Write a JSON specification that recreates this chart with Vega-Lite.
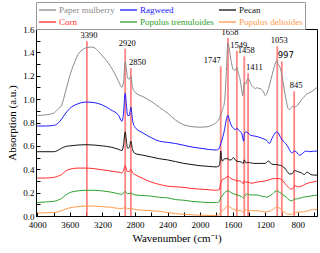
{
"$schema": "https://vega.github.io/schema/vega-lite/v6.json",
"autosize": "none",
"width": 281,
"height": 187,
"padding": {"left": 36, "top": 29, "right": 3, "bottom": 37},
"background": "white",
"config": {
  "view": {"stroke": "black", "strokeWidth": 1},
  "axis": {"grid": false, "domainColor": "black", "tickColor": "black", "labelColor": "black", "titleColor": "black", "labelFont": "Liberation Serif", "titleFont": "Liberation Serif", "labelFontSize": 9, "titleFontSize": 11, "titleFontWeight": "normal", "labelOverlap": false}
},
"datasets": {
"spectra": [
{"s":"Paper mulberry","x":4000,"y":0.86},{"s":"Paper mulberry","x":3900,"y":0.865},{"s":"Paper mulberry","x":3800,"y":0.88},{"s":"Paper mulberry","x":3750,"y":0.91},{"s":"Paper mulberry","x":3700,"y":0.95},{"s":"Paper mulberry","x":3650,"y":1.07},{"s":"Paper mulberry","x":3600,"y":1.2},{"s":"Paper mulberry","x":3550,"y":1.3},{"s":"Paper mulberry","x":3500,"y":1.38},{"s":"Paper mulberry","x":3450,"y":1.42},{"s":"Paper mulberry","x":3390,"y":1.44},{"s":"Paper mulberry","x":3330,"y":1.445},{"s":"Paper mulberry","x":3300,"y":1.44},{"s":"Paper mulberry","x":3250,"y":1.41},{"s":"Paper mulberry","x":3200,"y":1.37},{"s":"Paper mulberry","x":3150,"y":1.33},{"s":"Paper mulberry","x":3100,"y":1.28},{"s":"Paper mulberry","x":3050,"y":1.22},{"s":"Paper mulberry","x":3000,"y":1.15},{"s":"Paper mulberry","x":2960,"y":1.10},{"s":"Paper mulberry","x":2940,"y":1.15},{"s":"Paper mulberry","x":2920,"y":1.32},{"s":"Paper mulberry","x":2905,"y":1.26},{"s":"Paper mulberry","x":2890,"y":1.18},{"s":"Paper mulberry","x":2870,"y":1.17},{"s":"Paper mulberry","x":2850,"y":1.20},{"s":"Paper mulberry","x":2830,"y":1.10},{"s":"Paper mulberry","x":2800,"y":1.06},{"s":"Paper mulberry","x":2700,"y":1.02},{"s":"Paper mulberry","x":2600,"y":0.98},{"s":"Paper mulberry","x":2500,"y":0.93},{"s":"Paper mulberry","x":2400,"y":0.88},{"s":"Paper mulberry","x":2300,"y":0.82},{"s":"Paper mulberry","x":2200,"y":0.78},{"s":"Paper mulberry","x":2100,"y":0.765},{"s":"Paper mulberry","x":2000,"y":0.76},{"s":"Paper mulberry","x":1900,"y":0.765},{"s":"Paper mulberry","x":1850,"y":0.78},{"s":"Paper mulberry","x":1800,"y":0.80},{"s":"Paper mulberry","x":1760,"y":0.84},{"s":"Paper mulberry","x":1730,"y":0.9},{"s":"Paper mulberry","x":1700,"y":0.98},{"s":"Paper mulberry","x":1680,"y":1.2},{"s":"Paper mulberry","x":1658,"y":1.48},{"s":"Paper mulberry","x":1640,"y":1.42},{"s":"Paper mulberry","x":1620,"y":1.33},{"s":"Paper mulberry","x":1590,"y":1.25},{"s":"Paper mulberry","x":1565,"y":1.25},{"s":"Paper mulberry","x":1549,"y":1.27},{"s":"Paper mulberry","x":1530,"y":1.22},{"s":"Paper mulberry","x":1510,"y":1.17},{"s":"Paper mulberry","x":1490,"y":1.08},{"s":"Paper mulberry","x":1478,"y":1.03},{"s":"Paper mulberry","x":1465,"y":1.10},{"s":"Paper mulberry","x":1458,"y":1.14},{"s":"Paper mulberry","x":1440,"y":1.13},{"s":"Paper mulberry","x":1425,"y":1.16},{"s":"Paper mulberry","x":1411,"y":1.18},{"s":"Paper mulberry","x":1390,"y":1.15},{"s":"Paper mulberry","x":1370,"y":1.12},{"s":"Paper mulberry","x":1340,"y":1.10},{"s":"Paper mulberry","x":1320,"y":1.09},{"s":"Paper mulberry","x":1300,"y":1.1},{"s":"Paper mulberry","x":1280,"y":1.09},{"s":"Paper mulberry","x":1260,"y":1.09},{"s":"Paper mulberry","x":1240,"y":1.08},{"s":"Paper mulberry","x":1220,"y":1.06},{"s":"Paper mulberry","x":1200,"y":1.03},{"s":"Paper mulberry","x":1180,"y":1.05},{"s":"Paper mulberry","x":1160,"y":1.09},{"s":"Paper mulberry","x":1130,"y":1.17},{"s":"Paper mulberry","x":1100,"y":1.25},{"s":"Paper mulberry","x":1075,"y":1.31},{"s":"Paper mulberry","x":1060,"y":1.33},{"s":"Paper mulberry","x":1045,"y":1.30},{"s":"Paper mulberry","x":1030,"y":1.29},{"s":"Paper mulberry","x":1010,"y":1.25},{"s":"Paper mulberry","x":997,"y":1.21},{"s":"Paper mulberry","x":980,"y":1.14},{"s":"Paper mulberry","x":960,"y":1.05},{"s":"Paper mulberry","x":940,"y":0.98},{"s":"Paper mulberry","x":920,"y":0.92},{"s":"Paper mulberry","x":900,"y":0.91},{"s":"Paper mulberry","x":880,"y":0.93},{"s":"Paper mulberry","x":860,"y":0.94},{"s":"Paper mulberry","x":840,"y":0.93},{"s":"Paper mulberry","x":820,"y":0.94},{"s":"Paper mulberry","x":800,"y":0.95},{"s":"Paper mulberry","x":770,"y":0.98},{"s":"Paper mulberry","x":740,"y":1.01},{"s":"Paper mulberry","x":720,"y":1.02},{"s":"Paper mulberry","x":700,"y":1.04},{"s":"Paper mulberry","x":670,"y":1.05},{"s":"Paper mulberry","x":640,"y":1.06},{"s":"Paper mulberry","x":600,"y":1.08},{"s":"Paper mulberry","x":565,"y":1.10},
{"s":"Ragweed","x":4000,"y":0.77},{"s":"Ragweed","x":3900,"y":0.77},{"s":"Ragweed","x":3800,"y":0.775},{"s":"Ragweed","x":3750,"y":0.79},{"s":"Ragweed","x":3700,"y":0.83},{"s":"Ragweed","x":3650,"y":0.88},{"s":"Ragweed","x":3600,"y":0.92},{"s":"Ragweed","x":3500,"y":0.96},{"s":"Ragweed","x":3400,"y":0.975},{"s":"Ragweed","x":3300,"y":0.97},{"s":"Ragweed","x":3200,"y":0.95},{"s":"Ragweed","x":3100,"y":0.91},{"s":"Ragweed","x":3000,"y":0.86},{"s":"Ragweed","x":2960,"y":0.81},{"s":"Ragweed","x":2940,"y":0.88},{"s":"Ragweed","x":2920,"y":1.05},{"s":"Ragweed","x":2905,"y":0.95},{"s":"Ragweed","x":2890,"y":0.86},{"s":"Ragweed","x":2870,"y":0.86},{"s":"Ragweed","x":2850,"y":0.93},{"s":"Ragweed","x":2830,"y":0.82},{"s":"Ragweed","x":2800,"y":0.76},{"s":"Ragweed","x":2700,"y":0.71},{"s":"Ragweed","x":2600,"y":0.67},{"s":"Ragweed","x":2500,"y":0.64},{"s":"Ragweed","x":2400,"y":0.63},{"s":"Ragweed","x":2300,"y":0.62},{"s":"Ragweed","x":2200,"y":0.605},{"s":"Ragweed","x":2100,"y":0.59},{"s":"Ragweed","x":2000,"y":0.58},{"s":"Ragweed","x":1900,"y":0.57},{"s":"Ragweed","x":1800,"y":0.565},{"s":"Ragweed","x":1770,"y":0.575},{"s":"Ragweed","x":1747,"y":0.62},{"s":"Ragweed","x":1720,"y":0.68},{"s":"Ragweed","x":1700,"y":0.74},{"s":"Ragweed","x":1680,"y":0.82},{"s":"Ragweed","x":1658,"y":0.86},{"s":"Ragweed","x":1640,"y":0.82},{"s":"Ragweed","x":1620,"y":0.78},{"s":"Ragweed","x":1590,"y":0.75},{"s":"Ragweed","x":1560,"y":0.74},{"s":"Ragweed","x":1549,"y":0.75},{"s":"Ragweed","x":1520,"y":0.73},{"s":"Ragweed","x":1490,"y":0.71},{"s":"Ragweed","x":1475,"y":0.66},{"s":"Ragweed","x":1465,"y":0.64},{"s":"Ragweed","x":1458,"y":0.70},{"s":"Ragweed","x":1440,"y":0.72},{"s":"Ragweed","x":1411,"y":0.71},{"s":"Ragweed","x":1380,"y":0.69},{"s":"Ragweed","x":1340,"y":0.685},{"s":"Ragweed","x":1300,"y":0.68},{"s":"Ragweed","x":1260,"y":0.67},{"s":"Ragweed","x":1220,"y":0.66},{"s":"Ragweed","x":1180,"y":0.645},{"s":"Ragweed","x":1150,"y":0.62},{"s":"Ragweed","x":1120,"y":0.66},{"s":"Ragweed","x":1080,"y":0.71},{"s":"Ragweed","x":1060,"y":0.72},{"s":"Ragweed","x":1040,"y":0.71},{"s":"Ragweed","x":1010,"y":0.67},{"s":"Ragweed","x":980,"y":0.64},{"s":"Ragweed","x":950,"y":0.62},{"s":"Ragweed","x":920,"y":0.59},{"s":"Ragweed","x":890,"y":0.55},{"s":"Ragweed","x":870,"y":0.54},{"s":"Ragweed","x":845,"y":0.555},{"s":"Ragweed","x":820,"y":0.55},{"s":"Ragweed","x":800,"y":0.53},{"s":"Ragweed","x":780,"y":0.52},{"s":"Ragweed","x":750,"y":0.53},{"s":"Ragweed","x":720,"y":0.55},{"s":"Ragweed","x":690,"y":0.555},{"s":"Ragweed","x":650,"y":0.55},{"s":"Ragweed","x":600,"y":0.555},{"s":"Ragweed","x":565,"y":0.555},
{"s":"Pecan","x":4000,"y":0.55},{"s":"Pecan","x":3800,"y":0.55},{"s":"Pecan","x":3750,"y":0.56},{"s":"Pecan","x":3700,"y":0.58},{"s":"Pecan","x":3650,"y":0.595},{"s":"Pecan","x":3600,"y":0.60},{"s":"Pecan","x":3400,"y":0.61},{"s":"Pecan","x":3200,"y":0.60},{"s":"Pecan","x":3100,"y":0.59},{"s":"Pecan","x":3000,"y":0.57},{"s":"Pecan","x":2960,"y":0.56},{"s":"Pecan","x":2940,"y":0.61},{"s":"Pecan","x":2920,"y":0.72},{"s":"Pecan","x":2905,"y":0.64},{"s":"Pecan","x":2890,"y":0.58},{"s":"Pecan","x":2870,"y":0.585},{"s":"Pecan","x":2850,"y":0.64},{"s":"Pecan","x":2830,"y":0.57},{"s":"Pecan","x":2800,"y":0.535},{"s":"Pecan","x":2700,"y":0.52},{"s":"Pecan","x":2600,"y":0.505},{"s":"Pecan","x":2500,"y":0.49},{"s":"Pecan","x":2400,"y":0.48},{"s":"Pecan","x":2300,"y":0.465},{"s":"Pecan","x":2200,"y":0.45},{"s":"Pecan","x":2100,"y":0.44},{"s":"Pecan","x":2000,"y":0.43},{"s":"Pecan","x":1900,"y":0.425},{"s":"Pecan","x":1800,"y":0.42},{"s":"Pecan","x":1765,"y":0.43},{"s":"Pecan","x":1755,"y":0.47},{"s":"Pecan","x":1747,"y":0.555},{"s":"Pecan","x":1738,"y":0.50},{"s":"Pecan","x":1725,"y":0.47},{"s":"Pecan","x":1700,"y":0.49},{"s":"Pecan","x":1680,"y":0.49},{"s":"Pecan","x":1658,"y":0.49},{"s":"Pecan","x":1640,"y":0.48},{"s":"Pecan","x":1620,"y":0.48},{"s":"Pecan","x":1590,"y":0.50},{"s":"Pecan","x":1570,"y":0.48},{"s":"Pecan","x":1549,"y":0.47},{"s":"Pecan","x":1520,"y":0.465},{"s":"Pecan","x":1490,"y":0.46},{"s":"Pecan","x":1470,"y":0.45},{"s":"Pecan","x":1458,"y":0.48},{"s":"Pecan","x":1445,"y":0.46},{"s":"Pecan","x":1430,"y":0.455},{"s":"Pecan","x":1411,"y":0.46},{"s":"Pecan","x":1380,"y":0.455},{"s":"Pecan","x":1340,"y":0.45},{"s":"Pecan","x":1300,"y":0.45},{"s":"Pecan","x":1250,"y":0.45},{"s":"Pecan","x":1200,"y":0.45},{"s":"Pecan","x":1175,"y":0.465},{"s":"Pecan","x":1155,"y":0.47},{"s":"Pecan","x":1140,"y":0.455},{"s":"Pecan","x":1120,"y":0.445},{"s":"Pecan","x":1090,"y":0.44},{"s":"Pecan","x":1060,"y":0.44},{"s":"Pecan","x":1030,"y":0.435},{"s":"Pecan","x":1000,"y":0.43},{"s":"Pecan","x":980,"y":0.42},{"s":"Pecan","x":960,"y":0.41},{"s":"Pecan","x":940,"y":0.39},{"s":"Pecan","x":920,"y":0.37},{"s":"Pecan","x":900,"y":0.36},{"s":"Pecan","x":880,"y":0.36},{"s":"Pecan","x":860,"y":0.37},{"s":"Pecan","x":840,"y":0.39},{"s":"Pecan","x":820,"y":0.385},{"s":"Pecan","x":800,"y":0.38},{"s":"Pecan","x":760,"y":0.37},{"s":"Pecan","x":720,"y":0.355},{"s":"Pecan","x":690,"y":0.375},{"s":"Pecan","x":670,"y":0.37},{"s":"Pecan","x":640,"y":0.355},{"s":"Pecan","x":600,"y":0.35},{"s":"Pecan","x":565,"y":0.35},
{"s":"Corn","x":4000,"y":0.325},{"s":"Corn","x":3900,"y":0.325},{"s":"Corn","x":3800,"y":0.33},{"s":"Corn","x":3750,"y":0.34},{"s":"Corn","x":3700,"y":0.355},{"s":"Corn","x":3650,"y":0.385},{"s":"Corn","x":3600,"y":0.40},{"s":"Corn","x":3500,"y":0.41},{"s":"Corn","x":3400,"y":0.41},{"s":"Corn","x":3300,"y":0.405},{"s":"Corn","x":3200,"y":0.395},{"s":"Corn","x":3100,"y":0.385},{"s":"Corn","x":3000,"y":0.375},{"s":"Corn","x":2960,"y":0.37},{"s":"Corn","x":2940,"y":0.39},{"s":"Corn","x":2920,"y":0.43},{"s":"Corn","x":2905,"y":0.40},{"s":"Corn","x":2890,"y":0.38},{"s":"Corn","x":2870,"y":0.38},{"s":"Corn","x":2850,"y":0.40},{"s":"Corn","x":2830,"y":0.37},{"s":"Corn","x":2800,"y":0.355},{"s":"Corn","x":2700,"y":0.32},{"s":"Corn","x":2600,"y":0.29},{"s":"Corn","x":2500,"y":0.27},{"s":"Corn","x":2400,"y":0.255},{"s":"Corn","x":2300,"y":0.25},{"s":"Corn","x":2200,"y":0.245},{"s":"Corn","x":2100,"y":0.235},{"s":"Corn","x":2000,"y":0.23},{"s":"Corn","x":1900,"y":0.225},{"s":"Corn","x":1800,"y":0.22},{"s":"Corn","x":1765,"y":0.225},{"s":"Corn","x":1747,"y":0.28},{"s":"Corn","x":1730,"y":0.31},{"s":"Corn","x":1700,"y":0.32},{"s":"Corn","x":1680,"y":0.33},{"s":"Corn","x":1658,"y":0.34},{"s":"Corn","x":1640,"y":0.33},{"s":"Corn","x":1620,"y":0.32},{"s":"Corn","x":1590,"y":0.31},{"s":"Corn","x":1560,"y":0.305},{"s":"Corn","x":1549,"y":0.30},{"s":"Corn","x":1510,"y":0.30},{"s":"Corn","x":1490,"y":0.29},{"s":"Corn","x":1470,"y":0.275},{"s":"Corn","x":1458,"y":0.30},{"s":"Corn","x":1440,"y":0.29},{"s":"Corn","x":1411,"y":0.29},{"s":"Corn","x":1370,"y":0.28},{"s":"Corn","x":1330,"y":0.285},{"s":"Corn","x":1300,"y":0.29},{"s":"Corn","x":1250,"y":0.295},{"s":"Corn","x":1200,"y":0.30},{"s":"Corn","x":1150,"y":0.31},{"s":"Corn","x":1100,"y":0.32},{"s":"Corn","x":1060,"y":0.32},{"s":"Corn","x":1030,"y":0.32},{"s":"Corn","x":997,"y":0.31},{"s":"Corn","x":980,"y":0.30},{"s":"Corn","x":960,"y":0.28},{"s":"Corn","x":940,"y":0.26},{"s":"Corn","x":920,"y":0.25},{"s":"Corn","x":900,"y":0.235},{"s":"Corn","x":880,"y":0.23},{"s":"Corn","x":860,"y":0.24},{"s":"Corn","x":840,"y":0.26},{"s":"Corn","x":820,"y":0.255},{"s":"Corn","x":800,"y":0.25},{"s":"Corn","x":760,"y":0.255},{"s":"Corn","x":740,"y":0.26},{"s":"Corn","x":700,"y":0.275},{"s":"Corn","x":660,"y":0.285},{"s":"Corn","x":620,"y":0.29},{"s":"Corn","x":565,"y":0.30},
{"s":"Populus tremuloides","x":4000,"y":0.115},{"s":"Populus tremuloides","x":3900,"y":0.12},{"s":"Populus tremuloides","x":3800,"y":0.125},{"s":"Populus tremuloides","x":3750,"y":0.135},{"s":"Populus tremuloides","x":3700,"y":0.15},{"s":"Populus tremuloides","x":3650,"y":0.18},{"s":"Populus tremuloides","x":3600,"y":0.20},{"s":"Populus tremuloides","x":3500,"y":0.215},{"s":"Populus tremuloides","x":3400,"y":0.22},{"s":"Populus tremuloides","x":3300,"y":0.22},{"s":"Populus tremuloides","x":3200,"y":0.215},{"s":"Populus tremuloides","x":3100,"y":0.205},{"s":"Populus tremuloides","x":3000,"y":0.19},{"s":"Populus tremuloides","x":2960,"y":0.185},{"s":"Populus tremuloides","x":2920,"y":0.21},{"s":"Populus tremuloides","x":2890,"y":0.19},{"s":"Populus tremuloides","x":2850,"y":0.195},{"s":"Populus tremuloides","x":2800,"y":0.18},{"s":"Populus tremuloides","x":2700,"y":0.175},{"s":"Populus tremuloides","x":2600,"y":0.17},{"s":"Populus tremuloides","x":2500,"y":0.16},{"s":"Populus tremuloides","x":2400,"y":0.155},{"s":"Populus tremuloides","x":2300,"y":0.14},{"s":"Populus tremuloides","x":2200,"y":0.135},{"s":"Populus tremuloides","x":2100,"y":0.125},{"s":"Populus tremuloides","x":2000,"y":0.12},{"s":"Populus tremuloides","x":1900,"y":0.115},{"s":"Populus tremuloides","x":1800,"y":0.115},{"s":"Populus tremuloides","x":1770,"y":0.12},{"s":"Populus tremuloides","x":1747,"y":0.155},{"s":"Populus tremuloides","x":1720,"y":0.18},{"s":"Populus tremuloides","x":1700,"y":0.20},{"s":"Populus tremuloides","x":1680,"y":0.21},{"s":"Populus tremuloides","x":1658,"y":0.215},{"s":"Populus tremuloides","x":1640,"y":0.21},{"s":"Populus tremuloides","x":1620,"y":0.20},{"s":"Populus tremuloides","x":1590,"y":0.19},{"s":"Populus tremuloides","x":1549,"y":0.18},{"s":"Populus tremuloides","x":1520,"y":0.175},{"s":"Populus tremuloides","x":1490,"y":0.165},{"s":"Populus tremuloides","x":1470,"y":0.155},{"s":"Populus tremuloides","x":1458,"y":0.165},{"s":"Populus tremuloides","x":1440,"y":0.18},{"s":"Populus tremuloides","x":1430,"y":0.19},{"s":"Populus tremuloides","x":1411,"y":0.185},{"s":"Populus tremuloides","x":1370,"y":0.18},{"s":"Populus tremuloides","x":1300,"y":0.18},{"s":"Populus tremuloides","x":1250,"y":0.17},{"s":"Populus tremuloides","x":1200,"y":0.165},{"s":"Populus tremuloides","x":1180,"y":0.16},{"s":"Populus tremuloides","x":1150,"y":0.17},{"s":"Populus tremuloides","x":1110,"y":0.19},{"s":"Populus tremuloides","x":1080,"y":0.21},{"s":"Populus tremuloides","x":1060,"y":0.215},{"s":"Populus tremuloides","x":1040,"y":0.21},{"s":"Populus tremuloides","x":1020,"y":0.20},{"s":"Populus tremuloides","x":997,"y":0.19},{"s":"Populus tremuloides","x":970,"y":0.175},{"s":"Populus tremuloides","x":940,"y":0.16},{"s":"Populus tremuloides","x":910,"y":0.14},{"s":"Populus tremuloides","x":880,"y":0.13},{"s":"Populus tremuloides","x":860,"y":0.135},{"s":"Populus tremuloides","x":840,"y":0.145},{"s":"Populus tremuloides","x":820,"y":0.145},{"s":"Populus tremuloides","x":790,"y":0.15},{"s":"Populus tremuloides","x":760,"y":0.155},{"s":"Populus tremuloides","x":740,"y":0.16},{"s":"Populus tremuloides","x":700,"y":0.165},{"s":"Populus tremuloides","x":650,"y":0.17},{"s":"Populus tremuloides","x":600,"y":0.175},{"s":"Populus tremuloides","x":565,"y":0.18},
{"s":"Populus deltoides","x":4000,"y":0.025},{"s":"Populus deltoides","x":3900,"y":0.028},{"s":"Populus deltoides","x":3800,"y":0.03},{"s":"Populus deltoides","x":3750,"y":0.035},{"s":"Populus deltoides","x":3700,"y":0.045},{"s":"Populus deltoides","x":3650,"y":0.06},{"s":"Populus deltoides","x":3600,"y":0.07},{"s":"Populus deltoides","x":3500,"y":0.08},{"s":"Populus deltoides","x":3400,"y":0.085},{"s":"Populus deltoides","x":3300,"y":0.085},{"s":"Populus deltoides","x":3200,"y":0.08},{"s":"Populus deltoides","x":3100,"y":0.075},{"s":"Populus deltoides","x":3000,"y":0.065},{"s":"Populus deltoides","x":2960,"y":0.065},{"s":"Populus deltoides","x":2920,"y":0.072},{"s":"Populus deltoides","x":2890,"y":0.062},{"s":"Populus deltoides","x":2850,"y":0.065},{"s":"Populus deltoides","x":2800,"y":0.055},{"s":"Populus deltoides","x":2700,"y":0.05},{"s":"Populus deltoides","x":2600,"y":0.045},{"s":"Populus deltoides","x":2500,"y":0.04},{"s":"Populus deltoides","x":2400,"y":0.03},{"s":"Populus deltoides","x":2300,"y":0.02},{"s":"Populus deltoides","x":2200,"y":0.015},{"s":"Populus deltoides","x":2100,"y":0.01},{"s":"Populus deltoides","x":2000,"y":0.007},{"s":"Populus deltoides","x":1900,"y":0.005},{"s":"Populus deltoides","x":1800,"y":0.005},{"s":"Populus deltoides","x":1770,"y":0.01},{"s":"Populus deltoides","x":1747,"y":0.035},{"s":"Populus deltoides","x":1720,"y":0.05},{"s":"Populus deltoides","x":1700,"y":0.06},{"s":"Populus deltoides","x":1680,"y":0.08},{"s":"Populus deltoides","x":1658,"y":0.085},{"s":"Populus deltoides","x":1640,"y":0.08},{"s":"Populus deltoides","x":1620,"y":0.07},{"s":"Populus deltoides","x":1600,"y":0.06},{"s":"Populus deltoides","x":1549,"y":0.05},{"s":"Populus deltoides","x":1500,"y":0.045},{"s":"Populus deltoides","x":1480,"y":0.035},{"s":"Populus deltoides","x":1470,"y":0.03},{"s":"Populus deltoides","x":1455,"y":0.045},{"s":"Populus deltoides","x":1430,"y":0.055},{"s":"Populus deltoides","x":1411,"y":0.05},{"s":"Populus deltoides","x":1370,"y":0.045},{"s":"Populus deltoides","x":1300,"y":0.045},{"s":"Populus deltoides","x":1250,"y":0.04},{"s":"Populus deltoides","x":1200,"y":0.035},{"s":"Populus deltoides","x":1150,"y":0.04},{"s":"Populus deltoides","x":1100,"y":0.06},{"s":"Populus deltoides","x":1060,"y":0.075},{"s":"Populus deltoides","x":1030,"y":0.07},{"s":"Populus deltoides","x":997,"y":0.05},{"s":"Populus deltoides","x":970,"y":0.035},{"s":"Populus deltoides","x":940,"y":0.02},{"s":"Populus deltoides","x":910,"y":0.015},{"s":"Populus deltoides","x":880,"y":0.015},{"s":"Populus deltoides","x":850,"y":0.02},{"s":"Populus deltoides","x":820,"y":0.03},{"s":"Populus deltoides","x":780,"y":0.035},{"s":"Populus deltoides","x":740,"y":0.035},{"s":"Populus deltoides","x":700,"y":0.04},{"s":"Populus deltoides","x":650,"y":0.05},{"s":"Populus deltoides","x":600,"y":0.055},{"s":"Populus deltoides","x":565,"y":0.055}
],
"peaks": [
{"wn":3390,"top":1.497},{"wn":2920,"top":1.431},{"wn":2850,"top":1.266},{"wn":1747,"top":1.281},{"wn":1658,"top":1.523},{"wn":1549,"top":1.414},{"wn":1458,"top":1.366},{"wn":1411,"top":1.223},{"wn":1053,"top":1.452},{"wn":997,"top":1.323},{"wn":845,"top":1.067}
]
},
"layer": [
{
  "data": {"name": "peaks"},
  "mark": {"type": "rule", "color": "#ff5c5c", "strokeWidth": 1.8, "opacity": 0.75},
  "encoding": {
    "x": {"field": "wn", "type": "quantitative", "scale": {"domain": [4015, 565], "nice": false, "zero": false},
      "axis": {"values": [4000,3800,3600,3400,3200,3000,2800,2600,2400,2200,2000,1800,1600,1400,1200,1000,800,600], "tickCount": 100, "format": "d", "labelOverlap": false, "labelFlush": false, "labelExpr": "datum.value % 400 === 0 ? datum.label : ''", "tickSize": -4, "labelPadding": 8, "title": "Wavenumber (cm⁻¹)", "titlePadding": 3,
        "encode": {"ticks": {"update": {"y2": {"signal": "datum.value % 400 === 0 ? -4 : -2"}}}}}},
    "y": {"field": "top", "type": "quantitative", "scale": {"domain": [0, 1.6], "nice": false},
      "axis": {"values": [0,0.1,0.2,0.3,0.4,0.5,0.6,0.7,0.8,0.9,1.0,1.1,1.2,1.3,1.4,1.5,1.6], "tickCount": 100, "format": ".1f", "labelOverlap": false, "labelFlush": false, "labelExpr": "round(datum.value * 10) % 2 === 0 ? datum.label : ''", "tickSize": -4, "labelPadding": 6, "title": "Absorption (a.u.)", "titlePadding": 5,
        "encode": {"ticks": {"update": {"x2": {"signal": "round(datum.value * 10) % 2 === 0 ? 4 : 2"}}}}}},
    "y2": {"datum": 0}
  }
},
{
  "data": {"name": "spectra"},
  "mark": {"type": "line", "strokeWidth": 1, "interpolate": "monotone"},
  "encoding": {
    "x": {"field": "x", "type": "quantitative"},
    "y": {"field": "y", "type": "quantitative"},
    "color": {"field": "s", "type": "nominal",
      "scale": {"domain": ["Paper mulberry","Ragweed","Pecan","Corn","Populus tremuloides","Populus deltoides"], "range": ["#8a8a8a","#1a1aff","#111111","#ff2a2a","#2ca02c","#ff9a4d"]},
      "legend": {"orient": "none", "legendX": 0, "legendY": -27, "title": null, "columns": 3, "direction": "horizontal", "symbolType": "M-1,0H2.4", "symbolSize": 100, "symbolStrokeWidth": 1.3, "labelFont": "Liberation Serif", "labelFontSize": 9, "labelOffset": 9, "columnPadding": 2, "rowPadding": 1, "padding": 2, "strokeColor": "#999999", "fillColor": "white",
        "encode": {"labels": {"update": {"fill": {"signal": "scale('color', datum.value)"}}}}}
    }
  }
},
{
  "data": {"name": "peaks"},
  "transform": [{"filter": "datum.wn != 997 && datum.wn != 2850 && datum.wn != 1411 && datum.wn != 1747"}],
  "mark": {"type": "text", "font": "Liberation Serif", "fontSize": 8.5, "baseline": "bottom", "dy": -1, "dx": 2, "color": "black"},
  "encoding": {
    "x": {"field": "wn", "type": "quantitative"},
    "y": {"field": "top", "type": "quantitative"},
    "text": {"field": "wn", "type": "nominal"}
  }
},
{
  "data": {"name": "peaks"},
  "transform": [{"filter": "datum.wn == 2850 || datum.wn == 1411"}],
  "mark": {"type": "text", "font": "Liberation Serif", "fontSize": 8.5, "baseline": "bottom", "align": "left", "dy": -1, "dx": -2, "color": "black"},
  "encoding": {
    "x": {"field": "wn", "type": "quantitative"},
    "y": {"field": "top", "type": "quantitative"},
    "text": {"field": "wn", "type": "nominal"}
  }
},
{
  "data": {"name": "peaks"},
  "transform": [{"filter": "datum.wn == 1747"}],
  "mark": {"type": "text", "font": "Liberation Serif", "fontSize": 8.5, "baseline": "bottom", "align": "right", "dy": -1, "dx": 0, "color": "black"},
  "encoding": {
    "x": {"field": "wn", "type": "quantitative"},
    "y": {"field": "top", "type": "quantitative"},
    "text": {"field": "wn", "type": "nominal"}
  }
},
{
  "data": {"name": "peaks"},
  "transform": [{"filter": "datum.wn == 997"}],
  "mark": {"type": "text", "font": "DejaVu Sans", "fontSize": 8.5, "baseline": "bottom", "dy": -1, "dx": 4, "color": "black"},
  "encoding": {
    "x": {"field": "wn", "type": "quantitative"},
    "y": {"field": "top", "type": "quantitative"},
    "text": {"field": "wn", "type": "nominal"}
  }
}
]
}
